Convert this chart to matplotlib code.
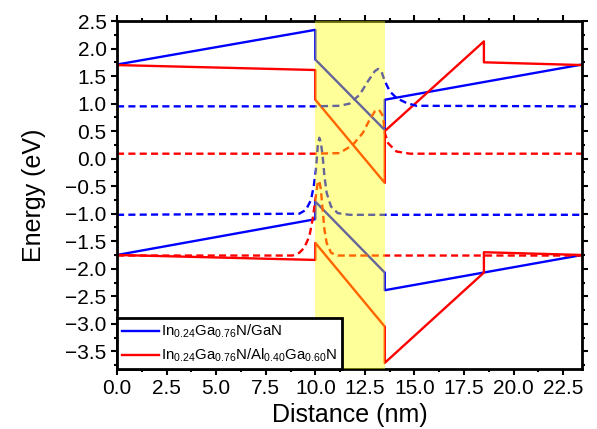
import matplotlib
matplotlib.use("Agg")
import matplotlib.pyplot as plt
from matplotlib.ticker import MultipleLocator, FuncFormatter

plt.rcParams['font.family'] = ['Liberation Sans', 'DejaVu Sans']
plt.rcParams['mathtext.default'] = 'regular'

# ---- band edges (nm, eV) ----
x_cb_blue = [0, 10, 10, 13.5, 13.5, 23.45]
E_cb_blue = [1.71, 2.34, 1.80, 0.52, 1.07, 1.71]
x_vb_blue = [0, 10, 10, 13.5, 13.5, 23.45]
E_vb_blue = [-1.75, -1.10, -0.78, -2.07, -2.39, -1.75]

x_cb_red = [0, 10, 10, 13.5, 13.5, 18.5, 18.5, 23.45]
E_cb_red = [1.70, 1.61, 1.07, -0.44, 0.50, 2.13, 1.75, 1.70]
x_vb_red = [0, 10, 10, 13.5, 13.5, 18.5, 18.5, 23.45]
E_vb_red = [-1.75, -1.84, -1.53, -3.05, -3.71, -2.07, -1.70, -1.75]

# ---- wavefunctions (offset to energy level) ----
x_el_blue = [0, 9.95, 11.22, 11.73, 12.23, 12.66, 13.0, 13.17, 13.33, 13.5, 13.76, 14.1, 14.6, 15.1, 23.45]
E_el_blue = [0.95, 0.95, 0.96, 1.00, 1.16, 1.41, 1.59, 1.63, 1.59, 1.41, 1.22, 1.10, 1.01, 0.96, 0.95]

x_el_red = [0, 9.95, 11.22, 11.89, 12.40, 12.74, 13.0, 13.21, 13.42, 13.50, 13.67, 14.09, 14.77, 23.45]
E_el_red = [0.09, 0.09, 0.10, 0.25, 0.47, 0.71, 0.86, 0.89, 0.77, 0.47, 0.28, 0.13, 0.09, 0.09]

x_hh_blue = [0, 9.19, 9.53, 9.78, 9.92, 10.03, 10.12, 10.2, 10.28, 10.37, 10.46, 10.57, 10.79, 11.13, 11.73, 23.45]
E_hh_blue = [-1.02, -1.0, -0.93, -0.75, -0.50, -0.20, 0.22, 0.38, 0.29, 0.04, -0.32, -0.62, -0.87, -0.99, -1.02, -1.02]

x_hh_red = [0, 8.85, 9.19, 9.44, 9.70, 9.86, 10.0, 10.12, 10.2, 10.28, 10.37, 10.46, 10.57, 10.79, 11.13, 23.45]
E_hh_red = [-1.76, -1.76, -1.71, -1.62, -1.41, -1.11, -0.75, -0.44, -0.40, -0.56, -0.93, -1.29, -1.53, -1.71, -1.76, -1.76]

well = [10, 13.5]
labels = [r'In$_{0.24}$Ga$_{0.76}$N/GaN',
          r'In$_{0.24}$Ga$_{0.76}$N/Al$_{0.40}$Ga$_{0.60}$N']

fig = plt.figure(figsize=(5.97, 4.29), dpi=100)
ax = fig.add_axes([0.196, 0.140, 0.779, 0.811])

lw = 1.7
dash = (0, (3, 1.8))
hb, = ax.plot(x_cb_blue, E_cb_blue, color='#0000ff', lw=lw, zorder=2)
ax.plot(x_vb_blue, E_vb_blue, color='#0000ff', lw=lw, zorder=2)
hr, = ax.plot(x_cb_red, E_cb_red, color='#ff0000', lw=lw, zorder=2)
ax.plot(x_vb_red, E_vb_red, color='#ff0000', lw=lw, zorder=2)
ax.plot(x_el_blue, E_el_blue, color='#0000ff', lw=lw, ls=dash, zorder=2)
ax.plot(x_hh_blue, E_hh_blue, color='#0000ff', lw=lw, ls=dash, zorder=2)
ax.plot(x_el_red, E_el_red, color='#ff0000', lw=lw, ls=dash, zorder=2)
ax.plot(x_hh_red, E_hh_red, color='#ff0000', lw=lw, ls=dash, zorder=2)

ax.axvspan(well[0], well[1], color='#ffff00', alpha=0.4, lw=0, zorder=3)

ax.set_xlim(0, 23.45)
ax.set_ylim(-3.82, 2.5)
ax.xaxis.set_major_locator(MultipleLocator(2.5))
ax.xaxis.set_minor_locator(MultipleLocator(1.25))
ax.yaxis.set_major_locator(MultipleLocator(0.5))
ax.yaxis.set_minor_locator(MultipleLocator(0.25))
fmt = FuncFormatter(lambda v, p: ('%.1f' % v).replace('-', '\u2212'))
ax.xaxis.set_major_formatter(fmt)
ax.yaxis.set_major_formatter(fmt)
ax.tick_params(which='both', direction='out', top=True, right=True,
               labeltop=False, labelright=False, width=1.5, labelsize=15,
               color='black', pad=3)
ax.tick_params(which='major', length=4.5)
ax.tick_params(which='minor', length=2.5)
for s in ax.spines.values():
    s.set_linewidth(2)

ax.set_xlabel('Distance (nm)', fontsize=18, labelpad=3.5)
ax.set_ylabel('Energy (eV)', fontsize=18, labelpad=14)

leg = ax.legend([hb, hr], labels, loc='lower left', borderaxespad=0,
                fontsize=10.8, frameon=True, fancybox=False, framealpha=1,
                edgecolor='black', handlelength=2.5, handletextpad=0.15,
                borderpad=0.3, labelspacing=0.45)
leg.get_frame().set_linewidth(2)
leg.set_zorder(5)

fig.savefig('out.png', dpi=100)
